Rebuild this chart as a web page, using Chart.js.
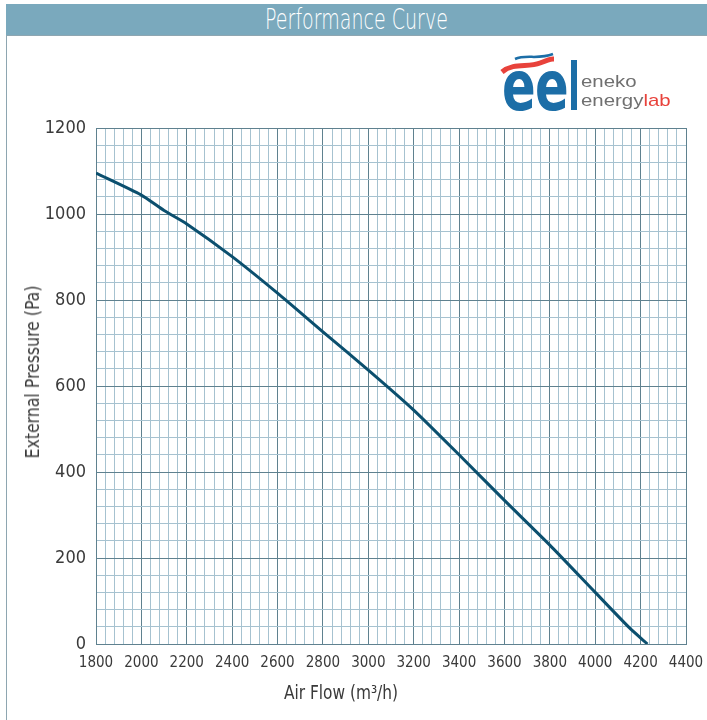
<!DOCTYPE html>
<html>
<head>
<meta charset="utf-8">
<title>Performance Curve</title>
<script src="https://cdn.jsdelivr.net/npm/chart.js@4.4.0/dist/chart.umd.min.js"></script>
<style>
  html, body { margin: 0; padding: 0; background: #fff; }
  #wrap {
    position: relative; width: 707px; height: 720px; overflow: hidden;
    font-family: "DejaVu Sans Condensed", "Liberation Sans Narrow", sans-serif;
    color: #3a3a3a;
  }
  #bar {
    position: absolute; left: 6px; top: 4px; right: 0; height: 31px;
    background: #7aa9bd; color: #fff; text-align: center;
    font-size: 28px; line-height: 31px;
  }
  #bar span { display: inline-block; transform: scaleX(0.68); font-family: "DejaVu Sans", sans-serif; font-weight: 200; }
  #panel {
    position: absolute; left: 6px; top: 35px; right: -3px; bottom: -3px;
    border: 1px solid #8ea6b1;
  }
  #chart { position: absolute; left: 0; top: 0; }
  .axis-title { position: absolute; font-size: 19px; white-space: nowrap; color: #3a3a3a; }
  #ytitle { left: 32px; top: 372px; transform: translate(-50%, -50%) rotate(-90deg) scaleX(0.92); }
  #xtitle { left: 341px; top: 692px; transform: translate(-50%, -50%) scaleX(0.9); }
  #logo { position: absolute; left: 496px; top: 50px; width: 190px; height: 66px; }
  #logo .ee {
    position: absolute; left: 6px; top: 2px; font-family: "DejaVu Sans Condensed", sans-serif;
    font-size: 69px; font-weight: bold; line-height: 69px;
    color: #1c6ea7; letter-spacing: -1px; transform: scaleX(0.8); transform-origin: left top;
  }
  #logo .bar { position: absolute; left: 75px; top: 10px; width: 6px; height: 50px; background: #1c6ea7; }
  #logo .t1, #logo .t2 {
    position: absolute; left: 85px; font-family: "Liberation Sans", sans-serif;
    font-size: 17px; color: #707070; line-height: 18px;
    transform: scaleX(1.2); transform-origin: left top;
  }
  #logo .t1 { top: 23px; }
  #logo .t2 { top: 42px; }
  #logo .t2 span { color: #e8423b; }
  #logo svg { position: absolute; left: 0; top: 0; }
</style>
</head>
<body>
<div id="wrap">
  <div id="bar"><span>Performance Curve</span></div>
  <div id="panel"></div>
  <canvas id="chart" width="707" height="720"></canvas>
  <div id="logo">
    <div class="ee">ee</div>
    <svg width="70" height="30" viewBox="0 0 70 30">
      <path d="M19 9 C 30 4, 42 10, 57 4" stroke="#1c6ea7" stroke-width="2.5" fill="none"/>
      <path d="M6 22 C 18 12, 32 18, 44 13 S 56 9, 58 9" stroke="#e8423b" stroke-width="5" fill="none"/>
    </svg>
    <div class="bar"></div>
    <div class="t1">eneko</div>
    <div class="t2">energy<span>lab</span></div>
  </div>
  <div class="axis-title" id="ytitle">External Pressure (Pa)</div>
  <div class="axis-title" id="xtitle">Air Flow (m³/h)</div>
</div>

<script>
// Curve
const airFlow = [1800, 2000, 2100, 2200, 2400, 2600, 2800, 3000, 3200, 3400, 3600, 3800, 4000, 4150, 4230];
const pressure = [1095, 1044, 1008, 977, 901, 816, 726, 637, 544, 440, 334, 230, 120, 38, 0];

const xMin = 1800, xMax = 4400, xLabelStep = 200;
const yMin = 0, yMax = 1200, yLabelStep = 200;
const gridStep = 40;

const minorGrid = '#a6c2d0';
const majorGrid = '#5f818f';
const tickColor = '#3a3a3a';
const fontFamily = '"DejaVu Sans Condensed", "Liberation Sans Narrow", sans-serif';

function gridColor(step) {
  return (ctx) => (ctx.tick && ctx.tick.value % step === 0 ? majorGrid : minorGrid);
}

const ctx = document.getElementById('chart').getContext('2d');
new Chart(ctx, {
  type: 'line',
  data: {
    datasets: [{
      label: 'Performance',
      data: airFlow.map((x, i) => ({ x: x, y: pressure[i] })),
      borderColor: '#0b4f6e',
      borderWidth: 3,
      pointRadius: 0,
      tension: 0.2,
      fill: false,
    }],
  },
  options: {
    responsive: false,
    animation: false,
    layout: { padding: { left: 0, right: 21, top: 128, bottom: 0 } },
    plugins: {
      legend: { display: false },
      tooltip: { enabled: false },
    },
    scales: {
      x: {
        type: 'linear',
        min: xMin,
        max: xMax,
        afterFit: (scale) => { scale.height = 76; },
        border: { display: true, color: majorGrid, width: 1 },
        grid: { color: gridColor(xLabelStep), lineWidth: 1, drawTicks: false },
        ticks: {
          stepSize: gridStep,
          autoSkip: false,
          maxRotation: 0,
          minRotation: 0,
          padding: 3,
          color: tickColor,
          font: { family: fontFamily, size: 15, lineHeight: 2.2 },
          callback: (v) => (v % xLabelStep === 0 ? String(v) : ''),
        },
      },
      y: {
        min: yMin,
        max: yMax,
        afterFit: (scale) => { scale.width = 96; },
        border: { display: true, color: majorGrid, width: 1 },
        grid: { color: gridColor(yLabelStep), lineWidth: 1, drawTicks: false },
        ticks: {
          stepSize: gridStep,
          autoSkip: false,
          padding: 10,
          color: tickColor,
          font: { family: fontFamily, size: 18 },
          callback: (v) => (v % yLabelStep === 0 ? String(v) : ''),
        },
      },
    },
  },
});
</script>
</body>
</html>
